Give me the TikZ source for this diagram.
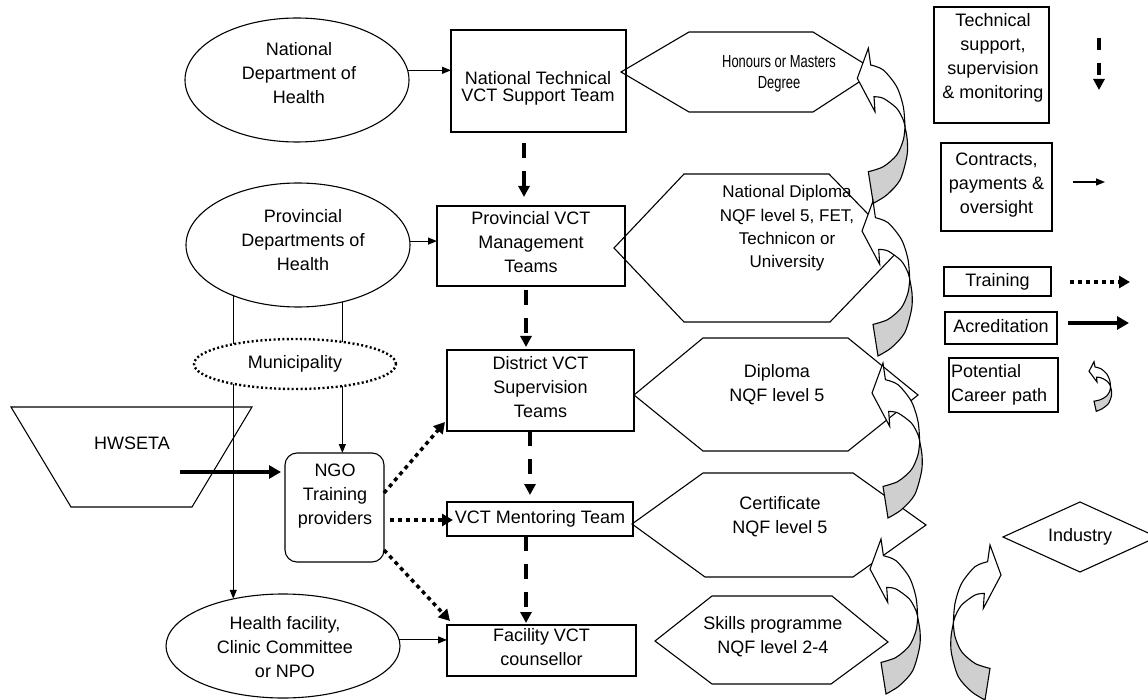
\documentclass[tikz,border=0pt]{standalone}
\usepackage{fontspec}
\setmainfont{Liberation Sans}
\newfontfamily\narrowsans[FakeStretch=0.74]{Liberation Sans}
\usetikzlibrary{arrows.meta,shapes.geometric}
\definecolor{backgray}{RGB}{207,207,207}
\newcommand\diagfont[1]{\fontsize{18}{#1}\selectfont\lineskiplimit=-100pt\relax}
\newcommand\sizedfont[2]{\fontsize{#1}{#2}\selectfont\lineskiplimit=-100pt\relax}
\tikzset{
  pics/careerarrow/.style={code={
    \filldraw[fill=white,line width=1.1pt,line join=miter] (0,0) -- (2.4,16.7)
      -- plot[smooth] coordinates {(2.4,16.7) (15,21.7) (28.4,38.4) (35,58.4) (36.7,78.4)}
      -- plot[smooth] coordinates {(36.7,78.4) (35,71.7) (28.4,60) (15,50) (5.7,48.4)}
      -- (6.7,63.4) -- (-11,30) -- cycle;
    \filldraw[fill=backgray,line width=1.1pt] (36.7,78.4)
      -- plot[smooth] coordinates {(36.7,78.4) (39,92) (38.6,108) (31.7,131.7) (18.4,146.7) (5,155)}
      -- (0,123.4)
      -- plot[smooth] coordinates {(0,123.4) (15,118.4) (28.4,106.7) (35,91.7) (36.7,78.4)} -- cycle;
  }}
}
\begin{document}
\begin{tikzpicture}[x=1pt,y=-1pt,line width=1.1pt,
  every node/.style={inner sep=0pt,outer sep=0pt},
  txt/.style={align=center,font=\diagfont{24},execute at begin node=\strut,execute at end node=\strut},
  rbox/.style={draw,rectangle},
  oval/.style={draw,ellipse},
  thinline/.style={line width=1.1pt},
  conarrow/.style={line width=1.1pt,-{Triangle[length=9pt,width=7pt]}},
  tsarrow/.style={line width=4.5pt,dash pattern=on 15pt off 13pt,-{Triangle[length=11pt,width=11pt]}},
  trarrow/.style={line width=3.5pt,dash pattern=on 4pt off 4pt,-{Triangle[length=11pt,width=12pt]}},
  accarrow/.style={line width=4pt,-{Triangle[length=12pt,width=13pt]}},
  outline/.style={line width=1.1pt,line join=miter}]

\useasboundingbox (0,0) rectangle (1148,700);
\clip (0,0) rectangle (1148,700);

% career hexagons
\draw[outline] (621,72) -- (689,32) -- (813,32) -- (876,71) -- (813,112) -- (689,112) -- cycle;
\draw[outline] (614,248) -- (684,174) -- (829,174) -- (901,248) -- (830,322) -- (684,322) -- cycle;
\draw[outline] (634,395) -- (703,338) -- (848,338) -- (918,395) -- (848,451) -- (703,451) -- cycle;
\draw[outline] (632,524) -- (703,473) -- (853,473) -- (926,525) -- (853,577) -- (705,577) -- cycle;
\draw[outline] (655,641) -- (712,596) -- (832,596) -- (888,642) -- (831,684) -- (712,684) -- cycle;
\node[txt,font={\narrowsans\sizedfont{17.5}{20.7}}] (honT) at (779,75) {Honours or Masters\\Degree};
\node[txt,font=\sizedfont{17}{23.3}] (ndT) at (787,230.1) {National Diploma\\NQF level 5, FET,\\Technicon or\\University};
\node[txt] (dipT) at (777,386.2) {Diploma\\NQF level 5};
\node[txt] (certT) at (780,518.9) {Certificate\\NQF level 5};
\node[txt] (skT) at (773,638.9) {Skills programme\\NQF level 2-4};

% Industry
\draw[outline] (1003,537) -- (1080,502) -- (1157,537) -- (1080,572) -- cycle;
\node[txt] (indT) at (1080,536.6) {Industry};

% organisations
\node[oval,minimum width=224pt,minimum height=124pt] (natdept) at (297,80) {};
\node[txt] (natdeptT) at (299,76.1) {National\\Department of\\Health};
\node[oval,minimum width=224pt,minimum height=124pt] (provdept) at (298,245) {};
\node[txt] (provdeptT) at (303,243.1) {Provincial\\Departments of\\Health};
\node[oval,minimum width=234pt,minimum height=104pt] (hf) at (283,646) {};
\node[txt] (hfT) at (285,650.8) {Health facility,\\Clinic Committee\\or NPO};

% VCT structure
\node[rbox,minimum width=175pt,minimum height=102pt] (nt) at (538.5,81) {};
\node[txt,font=\diagfont{17.5}] (ntT) at (538,89) {National Technical\\VCT Support Team};
\node[rbox,txt,minimum width=188pt,minimum height=80pt] (pv) at (531,246) {Provincial VCT\\Management\\Teams};
\node[rbox,txt,minimum width=187pt,minimum height=81pt] (dist) at (540.5,390.5) {District VCT\\Supervision\\Teams};
\node[rbox,txt,minimum width=186pt,minimum height=34pt] (ment) at (540,519) {VCT Mentoring Team};
\node[rbox,txt,minimum width=189pt,minimum height=51pt] (fac) at (541.5,650.5) {Facility VCT\\counsellor};
\node[rbox,rounded corners=12pt,minimum width=99pt,minimum height=109pt] (ngo) at (334.5,507.5) {};
\node[txt] (ngoT) at (335,497.8) {NGO\\Training\\providers};

% province to facility (behind municipality)
\draw[conarrow] (provdept.218.5) -- (provdept.218.5 |- hf.136.1);
\node[oval,txt,fill=white,line width=2.4pt,dash pattern=on 2pt off 2.4pt,minimum width=202pt,minimum height=50pt] (mun) at (295,364) {Municipality};
\draw[thinline] (provdept.-52.3) -- (provdept.-52.3 |- mun.25.2);
\draw[conarrow] (mun.-25.2) -- (mun.-25.2 |- ngo.north);

% contracts arrows
\draw[conarrow] (natdept.5) -- (natdept.5 -| nt.west);
\draw[conarrow] (provdept.2) -- (provdept.2 -| pv.west);
\draw[conarrow] (hf.3.4) -- (hf.3.4 -| fac.west);

% technical support arrows
\draw[tsarrow,shorten <=11pt,shorten >=9pt] ([xshift=-14.5pt]nt.south) -- ([xshift=-14.5pt]nt.south |- pv.north);
\draw[tsarrow,shorten <=4pt,shorten >=3pt] ([xshift=-5pt]pv.south) -- ([xshift=-5pt]pv.south |- dist.north);
\draw[tsarrow,shorten >=7pt] ([xshift=-10.5pt]dist.south) -- ([xshift=-10.5pt]dist.south |- ment.north);
\draw[tsarrow,shorten >=2pt] ([xshift=-14pt]ment.south) -- ([xshift=-14pt]ment.south |- fac.north);

% HWSETA
\draw[outline] (11,407) -- (252,407) -- (192,507) -- (71,507) -- cycle;
\node[txt] (hwsetaT) at (132,444.6) {HWSETA};
\coordinate (hwout) at (180,472);
\draw[accarrow,shorten >=4pt] (hwout) -- (hwout -| ngo.west);

% training arrows
\draw[trarrow] ([yshift=14.5pt]ngo.east) -- ([shift={(-2pt,9pt)}]dist.south west);
\draw[trarrow] ([shift={(6pt,-12.5pt)}]ngo.east) -- ([shift={(6pt,-12.5pt)}]ngo.east -| ment.west);
\draw[trarrow] ([yshift=-42.5pt]ngo.east) -- ([shift={(3pt,4pt)}]fac.north west);

% career path arrows
\pic at (868.3,48.3) {careerarrow};
\pic at (873,201) {careerarrow};
\pic at (883,363) {careerarrow};
\pic at (881,539) {careerarrow};
\pic[xscale=-1] at (990,545) {careerarrow};

% legend
\node[rbox,minimum width=115pt,minimum height=116pt] (lg1) at (991.5,65) {};
\node[txt] (lg1T) at (993,60) {Technical\\support,\\supervision\\\& monitoring};
\coordinate (lgdA) at (1099,38);
\coordinate (lgdB) at (1099,90);
\draw[tsarrow,dash pattern=on 12pt off 13pt] (lgdA) -- (lgdB);

\node[rbox,txt,minimum width=111pt,minimum height=88pt] (lg2) at (996.5,187) {Contracts,\\payments \&\\oversight};
\coordinate (lgcA) at (1073,182);
\coordinate (lgcB) at (1105,182);
\draw[conarrow] (lgcA) -- (lgcB);

\node[rbox,txt,minimum width=107pt,minimum height=29pt] (lg3) at (997.5,281.5) {Training};
\coordinate (lgtA) at (1070,282);
\coordinate (lgtB) at (1130,282);
\draw[trarrow] (lgtA) -- (lgtB);

\node[rbox,txt,minimum width=112pt,minimum height=32pt] (lg4) at (1001,328) {Acreditation};
\coordinate (lgaA) at (1068,323);
\coordinate (lgaB) at (1129,323);
\draw[accarrow] (lgaA) -- (lgaB);

\node[rbox,txt,align=left,text width=105pt,minimum width=109pt,minimum height=54pt] (lg5) at (1003.5,385) {Potential\\Career path};
\pic[xscale=0.45,yscale=0.32] at (1094,361.7) {careerarrow};
\end{tikzpicture}
\end{document}
